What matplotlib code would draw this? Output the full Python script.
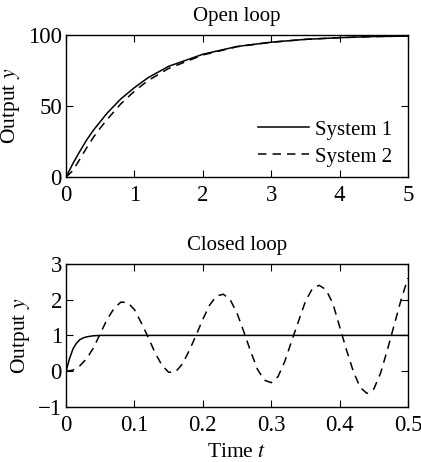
import matplotlib
matplotlib.use("Agg")
import matplotlib.pyplot as plt

plt.rcParams['font.family'] = ['Liberation Serif', 'DejaVu Serif']
plt.rcParams['mathtext.fontset'] = 'stix'
plt.rcParams['font.size'] = 15

# open loop step responses
t_open = [0, 0.1, 0.2, 0.3, 0.4, 0.5, 0.6, 0.8, 1.0, 1.2, 1.5, 2.0, 2.5, 3.0, 3.5, 4.0, 4.5, 5.0]
y_open_1 = [0, 9.5, 18, 26, 33, 39, 45, 55, 63, 70, 78, 86.5, 92, 95, 97, 98.2, 99, 99.3]
y_open_2 = [0, 4.5, 12.5, 20.5, 28, 34.5, 40.5, 51.5, 60.5, 68, 76.5, 86, 91.8, 95, 97, 98.2, 99, 99.3]

# closed loop step responses
t_cl_1 = [0, 0.005, 0.01, 0.015, 0.02, 0.025, 0.03, 0.04, 0.05, 0.06, 0.5]
y_cl_1 = [0, 0.35, 0.62, 0.78, 0.88, 0.93, 0.96, 0.99, 1.0, 1.0, 1.0]

t_cl_2 = [0.00, 0.01, 0.02, 0.03, 0.04, 0.05, 0.06, 0.07, 0.08, 0.09,
          0.10, 0.11, 0.12, 0.13, 0.14, 0.15, 0.16, 0.17, 0.18, 0.19,
          0.20, 0.21, 0.22, 0.23, 0.24, 0.25, 0.26, 0.27, 0.28, 0.29,
          0.30, 0.31, 0.32, 0.33, 0.34, 0.35, 0.36, 0.37, 0.38, 0.39,
          0.40, 0.41, 0.42, 0.43, 0.44, 0.45, 0.46, 0.47, 0.48, 0.49, 0.50]
y_cl_2 = [0.00, 0.03, 0.15, 0.35, 0.65, 1.05, 1.45, 1.75, 1.93, 1.92,
          1.72, 1.35, 0.95, 0.52, 0.17, -0.03, -0.02, 0.20, 0.57, 1.00,
          1.45, 1.85, 2.10, 2.15, 2.00, 1.62, 1.10, 0.55, 0.05, -0.25,
          -0.32, -0.15, 0.28, 0.85, 1.40, 1.95, 2.30, 2.40, 2.28, 1.90,
          1.25, 0.60, 0.00, -0.45, -0.62, -0.50, -0.05, 0.60, 1.30, 2.00, 2.60]

labels = ["System 1", "System 2"]

fig = plt.figure(figsize=(4.21, 4.62), dpi=100)
ax1 = fig.add_axes([0.157, 0.617, 0.812, 0.307])
ax2 = fig.add_axes([0.157, 0.119, 0.812, 0.310])

lw = 1.1
dash = (0, (5.5, 4))

ax1.plot(t_open, y_open_1, color='black', lw=lw, label=labels[0])
ax1.plot(t_open, y_open_2, color='black', lw=lw, linestyle=dash, label=labels[1])
ax1.set_xlim(0, 5)
ax1.set_ylim(0, 100)
ax1.set_xticks([0, 1, 2, 3, 4, 5])
ax1.set_yticks([0, 50, 100])
ax1.set_title("Open loop", fontsize=15, pad=10)
ax1.set_ylabel("Output $y$", fontsize=15.5)
ax1.legend(loc='lower right', bbox_to_anchor=(0.985, 0.0), frameon=False,
           handlelength=2.45, handletextpad=0.3, labelspacing=0.35,
           borderaxespad=0.1, fontsize=15)

ax2.plot(t_cl_1, y_cl_1, color='black', lw=lw)
ax2.plot(t_cl_2, y_cl_2, color='black', lw=lw, linestyle=dash)
ax2.set_xlim(0, 0.5)
ax2.set_ylim(-1, 3)
ax2.set_xticks([0, 0.1, 0.2, 0.3, 0.4, 0.5])
ax2.set_xticklabels(["0", "0.1", "0.2", "0.3", "0.4", "0.5"])
ax2.set_yticks([-1, 0, 1, 2, 3])
ax2.set_yticklabels(["\u22121", "0", "1", "2", "3"])
ax2.set_title("Closed loop", fontsize=15, pad=10)
ax2.set_ylabel("Output $y$", fontsize=15.5)
ax2.set_xlabel("Time $t$", fontsize=15.5, labelpad=5)

for ax in (ax1, ax2):
    ax.tick_params(direction='in', top=True, right=True, length=5, width=0.8,
                   labelsize=16.5)
    ax.tick_params(axis='x', pad=6)
    ax.tick_params(axis='y', pad=3)
    for s in ax.spines.values():
        s.set_linewidth(1.0)

fig.savefig("out.png", dpi=100)
